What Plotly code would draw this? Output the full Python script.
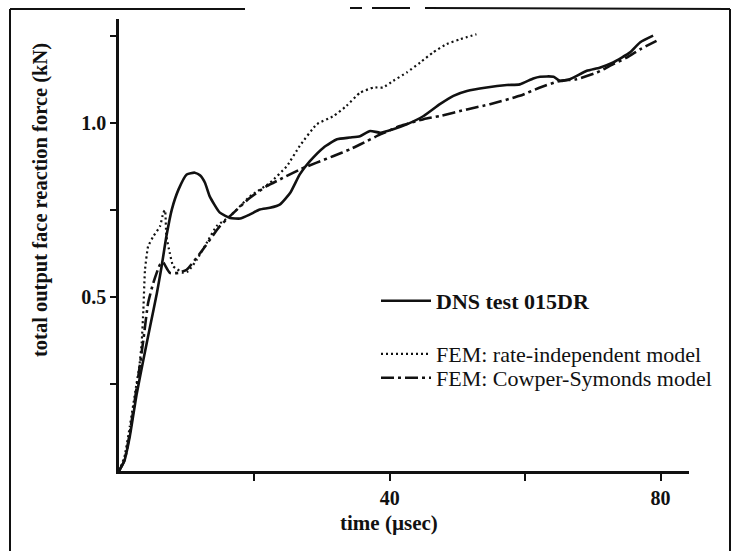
import plotly.graph_objects as go

# ---- data ----
time_dns = [0, 0.8, 1.6, 2.6, 3.6, 4.6, 5.6, 6.3, 7.0, 7.8, 8.8, 10.0, 11.2, 12.0, 12.7,
            13.4, 14.9, 16.4, 17.9, 19.35, 20.8, 22.3, 23.8, 25.3, 26.7, 28.2, 30.2, 32.2,
            34.1, 35.6, 37.1, 38.6, 40.5, 42.5, 45.0, 47.4, 49.4, 51.4, 54.3, 57.3, 59.2,
            61.2, 62.2, 64.2, 65.1, 66.6, 69.1, 71.0, 73.0, 75.5, 77.0, 78.9]
force_dns = [0, 0.03, 0.10, 0.22, 0.32, 0.416, 0.512, 0.589, 0.675, 0.752, 0.81, 0.853, 0.858,
             0.85, 0.829, 0.79, 0.743, 0.728, 0.726, 0.738, 0.752, 0.757, 0.767, 0.80, 0.853,
             0.891, 0.93, 0.954, 0.959, 0.963, 0.978, 0.973, 0.983, 0.997, 1.021, 1.055, 1.079,
             1.093, 1.103, 1.11, 1.112, 1.129, 1.134, 1.134, 1.122, 1.127, 1.151, 1.16, 1.175,
             1.204, 1.233, 1.252]

time_rate = [0, 0.8, 1.6, 2.5, 3.0, 3.35, 3.6, 3.84, 4.3, 5.07, 6.06, 6.55, 6.8, 7.0, 7.5,
             8.0, 9.5, 10.2, 11.5, 12.95, 14.4, 16.4, 19.35, 22.3, 24.8, 26.7, 29.2, 31.7,
             33.6, 35.6, 37.6, 39.0, 40.5, 42.5, 44.5, 46.4, 48.4, 50.4, 52.8]
force_rate = [0, 0.04, 0.128, 0.24, 0.30, 0.368, 0.464, 0.579, 0.646, 0.675, 0.704, 0.743,
              0.75, 0.675, 0.627, 0.589, 0.57, 0.574, 0.608, 0.656, 0.704, 0.733, 0.79, 0.829,
              0.877, 0.935, 0.997, 1.021, 1.05, 1.088, 1.103, 1.103, 1.122, 1.146, 1.175,
              1.204, 1.228, 1.242, 1.256]

time_cs = [0, 0.8, 1.6, 2.85, 3.6, 4.3, 5.07, 6.06, 6.5, 7.5, 8.8, 10.0, 12.0, 14.9, 16.4,
           19.35, 21.8, 23.8, 26.7, 29.2, 31.7, 34.1, 35.6, 38.6, 41.5, 45.0, 47.4, 51.4,
           54.8, 59.2, 62.2, 65.1, 67.6, 70.6, 72.5, 75.0, 77.0, 79.4]
force_cs = [0, 0.03, 0.11, 0.272, 0.377, 0.483, 0.541, 0.594, 0.60, 0.57, 0.57, 0.579, 0.627,
            0.704, 0.733, 0.786, 0.819, 0.839, 0.867, 0.887, 0.906, 0.925, 0.939, 0.968, 0.992,
            1.012, 1.021, 1.04, 1.055, 1.079, 1.103, 1.122, 1.127, 1.146, 1.165, 1.189, 1.213,
            1.237]

x_tickvals = [20, 40, 60, 80]
x_ticktext = ["", "40", "", "80"]
y_tickvals = [0.25, 0.5, 0.75, 1.0, 1.25]
y_ticktext = ["", "0.5", "", "1.0", ""]

INK = "#111111"
FONT = "Liberation Serif"

fig = go.Figure()
fig.add_trace(go.Scatter(x=time_dns, y=force_dns, mode="lines",
                         name="<b>DNS test 015DR</b>", legend="legend",
                         line=dict(color=INK, width=2.6, shape="spline", smoothing=0.5)))
fig.add_trace(go.Scatter(x=time_rate, y=force_rate, mode="lines",
                         name="FEM: rate-independent model", legend="legend2",
                         line=dict(color=INK, width=2.2, dash="2px,3px", shape="spline",
                                   smoothing=0.4)))
fig.add_trace(go.Scatter(x=time_cs, y=force_cs, mode="lines",
                         name="FEM: Cowper-Symonds model", legend="legend3",
                         line=dict(color=INK, width=2.6, dash="13px,4px,3px,4px",
                                   shape="spline", smoothing=0.5)))

L, R, T, B = 119, 50, 19, 80
W, H = 739, 551
pw, ph = W - L - R, H - T - B


def px(x):
    return (x - L) / pw


def py(y):
    return (H - B - y) / ph


shapes = []
frame = [((10, 9), (10, 560)), ((730, 9), (730, 560)),
         ((10, 9), (245, 9)), ((350, 8), (362, 8)), ((372, 8), (410, 8)),
         ((425, 8), (730, 9))]
for (x0, y0), (x1, y1) in frame:
    shapes.append(dict(type="line", xref="paper", yref="paper",
                       x0=px(x0), y0=py(y0), x1=px(x1), y1=py(y1),
                       line=dict(color=INK, width=2)))


def legend_at(ycenter):
    return dict(x=px(376), y=py(ycenter), xanchor="left", yanchor="middle",
                bgcolor="rgba(0,0,0,0)", itemwidth=50,
                font=dict(family=FONT, size=22, color=INK))


fig.update_layout(
    width=W, height=H,
    margin=dict(l=L, r=R, t=T, b=B),
    paper_bgcolor="white", plot_bgcolor="white",
    font=dict(family=FONT, size=20, color=INK),
    showlegend=True,
    legend=legend_at(301),
    legend2=legend_at(354),
    legend3=legend_at(378),
    xaxis=dict(range=[0, 84.2], showgrid=False, zeroline=False, showline=True,
               linecolor=INK, linewidth=2.5, ticks="outside", ticklen=7, tickwidth=2,
               tickcolor=INK, tickvals=x_tickvals, ticktext=x_ticktext,
               tickfont=dict(family=FONT, size=20, weight="bold")),
    yaxis=dict(range=[0, 1.30], showgrid=False, zeroline=False, showline=True,
               linecolor=INK, linewidth=2.5, ticks="outside", ticklen=6, tickwidth=2,
               tickcolor=INK, tickvals=y_tickvals, ticktext=y_ticktext,
               tickfont=dict(family=FONT, size=20, weight="bold")),
    shapes=shapes,
    annotations=[
        dict(text="time (\u00b5sec)", xref="paper", yref="paper", x=px(389), y=py(523),
             xanchor="center", yanchor="middle", showarrow=False,
             font=dict(family=FONT, size=21, weight="bold")),
        dict(text="total output face reaction force (kN)", xref="paper", yref="paper",
             x=px(40), y=py(200), xanchor="center", yanchor="middle", textangle=-90,
             showarrow=False, font=dict(family=FONT, size=20.5, weight="bold")),
    ],
)

fig.write_html("out.html", config={"displayModeBar": False},
               post_script="document.body.style.margin='0px';")
